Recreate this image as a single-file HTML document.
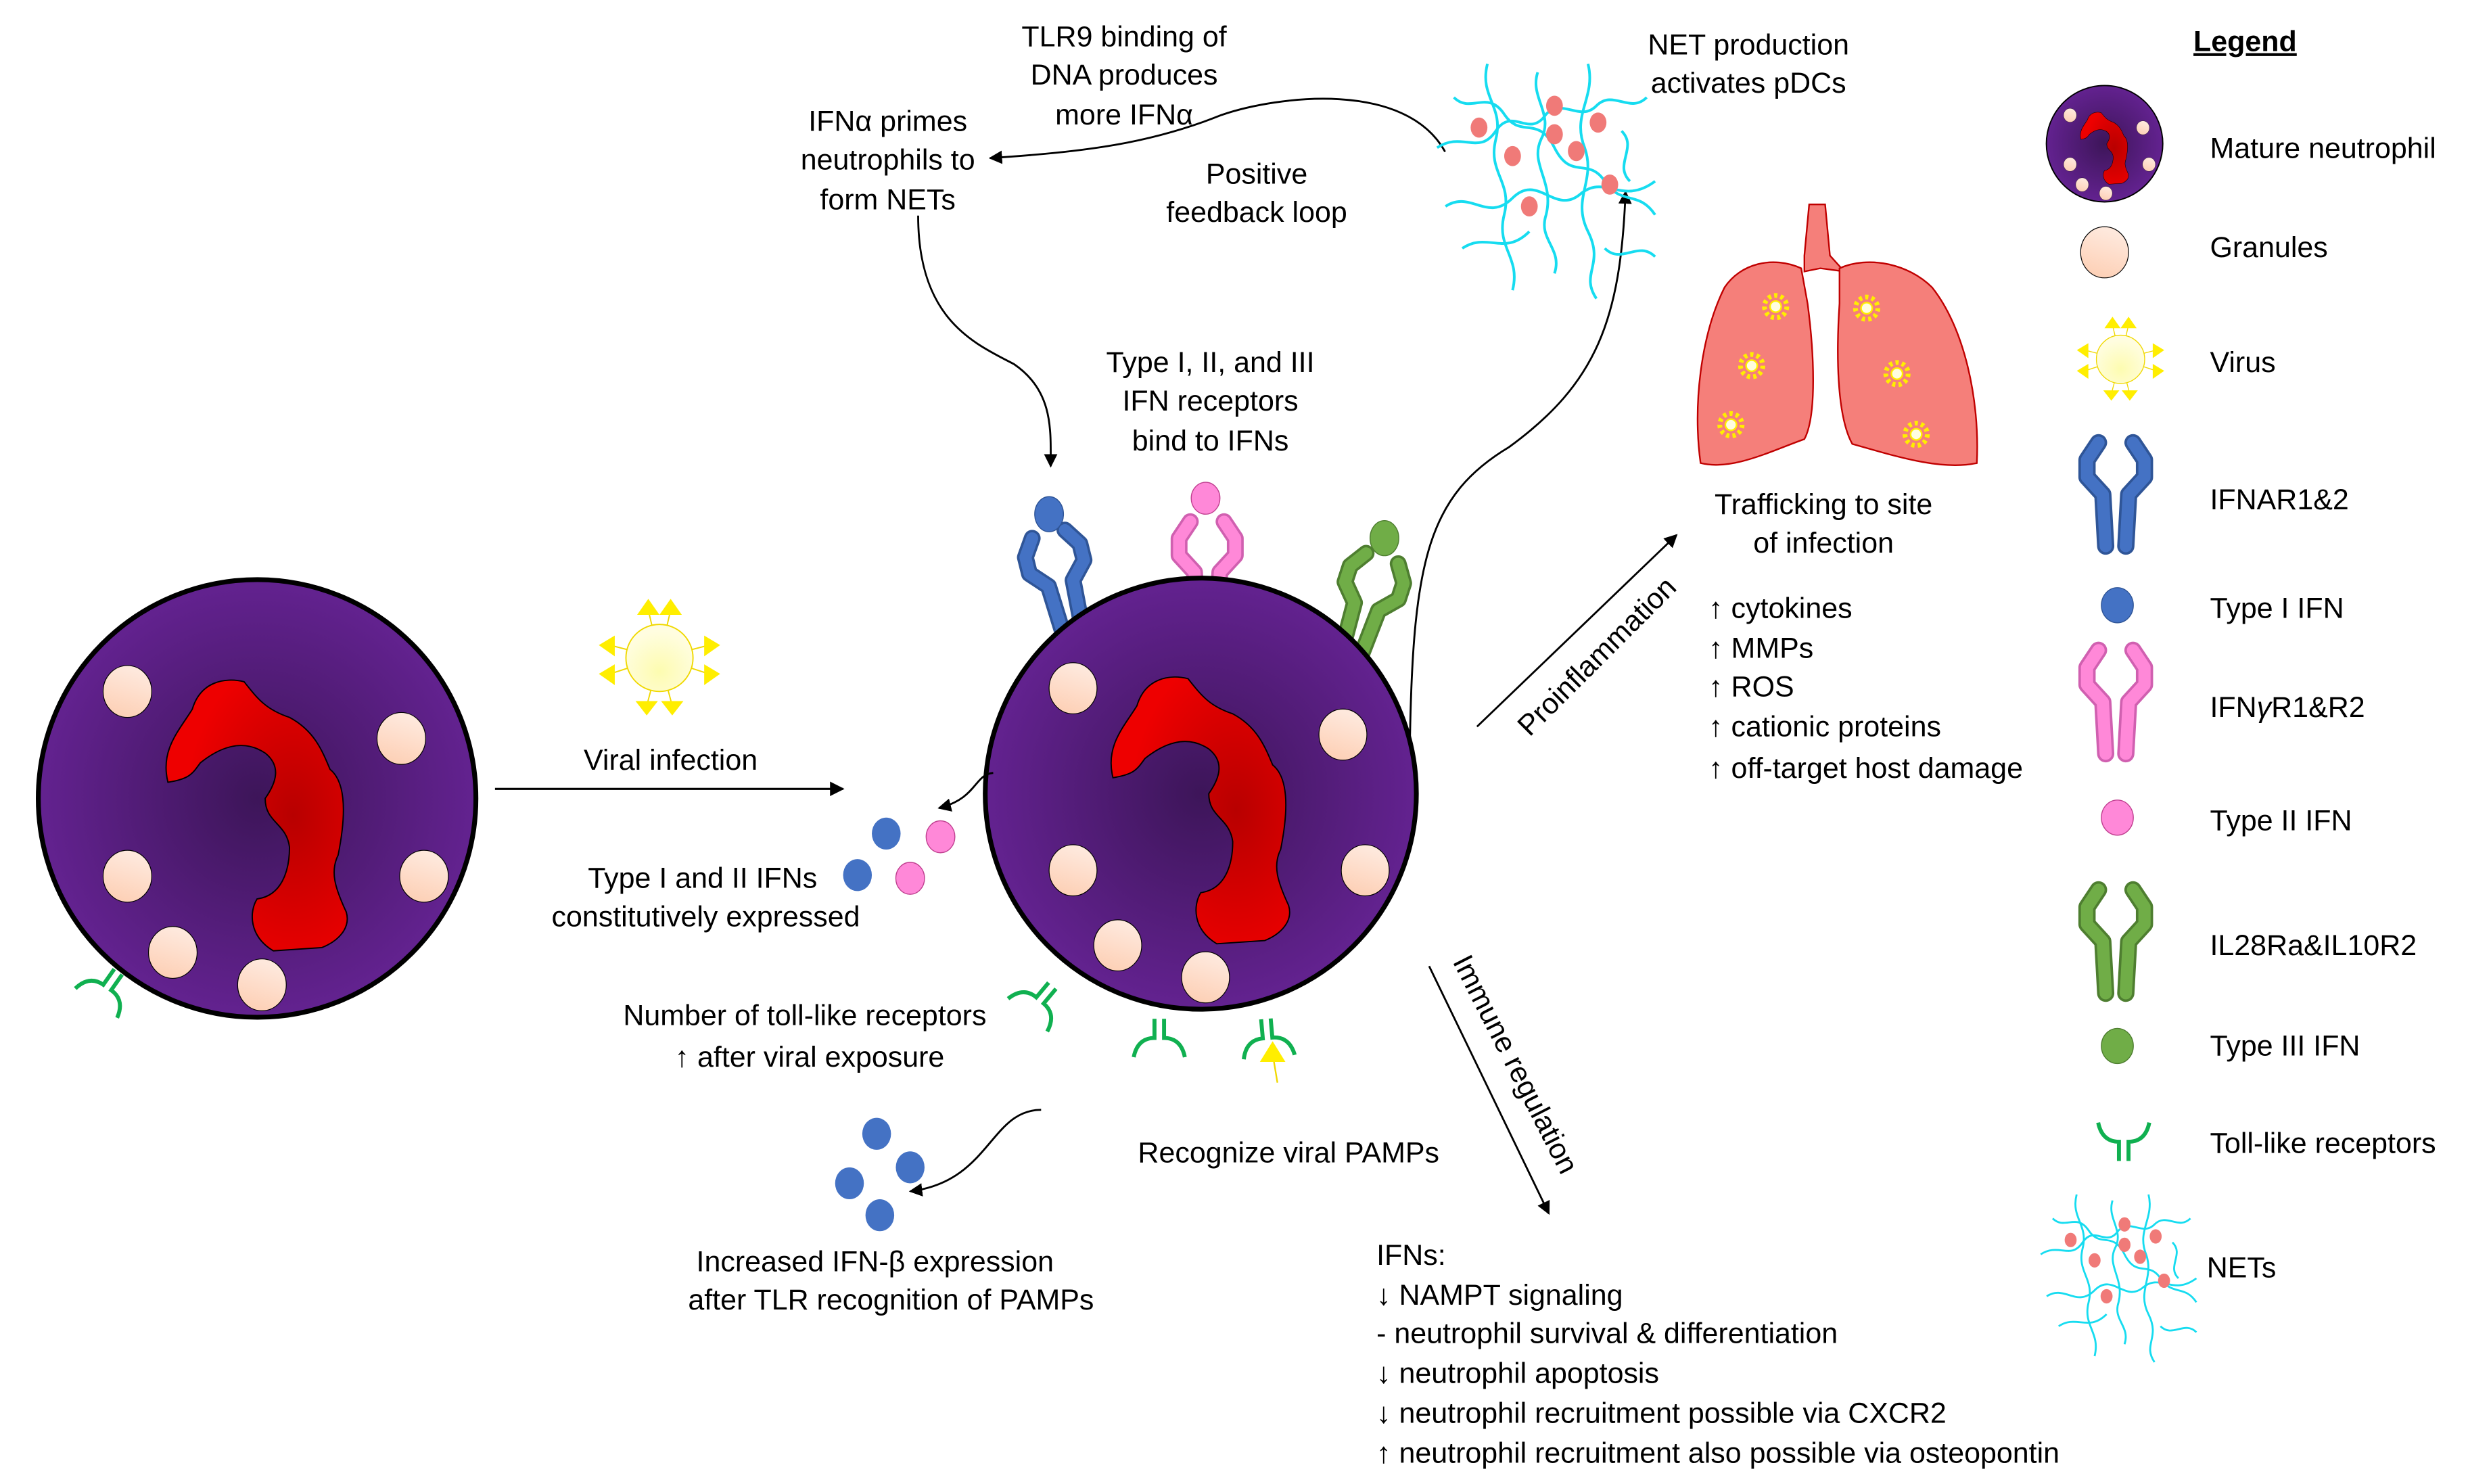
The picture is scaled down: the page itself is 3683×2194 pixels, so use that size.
<!DOCTYPE html>
<html><head><meta charset="utf-8"><style>
html,body{margin:0;padding:0;background:#fff;}
svg{display:block;}
text{font-family:"Liberation Sans",Arial,sans-serif;font-size:18.2px;fill:#000;}
</style></head><body>
<svg xmlns="http://www.w3.org/2000/svg" width="3683" height="2194" viewBox="0 0 1560 929.3" preserveAspectRatio="none">
<defs>
<radialGradient id="cg" cx="0.5" cy="0.5" r="0.5"><stop offset="0" stop-color="#3d1559"/><stop offset="1" stop-color="#632290"/></radialGradient>
<linearGradient id="gg" x1="0.3" y1="0" x2="0" y2="1"><stop offset="0" stop-color="#fee8dc"/><stop offset="1" stop-color="#fdcdb1"/></linearGradient>
<radialGradient id="ng" cx="0.7" cy="0.5" r="0.6"><stop offset="0" stop-color="#b80000"/><stop offset="1" stop-color="#ee0000"/></radialGradient>
<radialGradient id="vg" cx="0.5" cy="0.7" r="0.6"><stop offset="0" stop-color="#fdfcb0"/><stop offset="1" stop-color="#fffde0"/></radialGradient>
<marker id="ah" viewBox="0 0 10 10" refX="9" refY="5" markerWidth="7" markerHeight="7" orient="auto"><path d="M0,0 L10,5 L0,10 z" fill="#000"/></marker>
<g id="gran"><ellipse rx="15" ry="16" fill="url(#gg)" stroke="#000" stroke-width="0.5"/></g>
<g id="cell">
<circle r="135" fill="url(#cg)" stroke="#000" stroke-width="3"/>
<path d="M-55,-10 C-60,-30 -48,-42 -40,-55 C-35,-72 -20,-75 -8,-72 C0,-62 5,-55 20,-50 C35,-42 40,-30 45,-18 C55,-10 55,10 50,35 C45,45 48,55 55,70 C58,80 50,88 40,92 L10,94 C-5,85 -5,70 0,62 C15,60 20,45 20,30 C18,15 5,15 5,0 C12,-10 15,-20 5,-28 C-10,-38 -25,-30 -35,-22 C-40,-15 -42,-12 -55,-10 Z" fill="url(#ng)" stroke="#000" stroke-width="0.8"/>
<use href="#gran" x="-80" y="-66"/>
<use href="#gran" x="89" y="-37"/>
<use href="#gran" x="-80" y="48"/>
<use href="#gran" x="103" y="48"/>
<use href="#gran" x="-52" y="95"/>
<use href="#gran" x="3" y="115"/>
</g>
<g id="rec">
<path d="M-7,0 L-9,-36 L-20,-48 L-20,-60 L-12,-72 M7,0 L9,-36 L20,-48 L20,-60 L12,-72" fill="none" stroke="var(--d)" stroke-width="12" stroke-linecap="round" stroke-linejoin="round"/>
<path d="M-7,0 L-9,-36 L-20,-48 L-20,-60 L-12,-72 M7,0 L9,-36 L20,-48 L20,-60 L12,-72" fill="none" stroke="var(--c)" stroke-width="8.5" stroke-linecap="round" stroke-linejoin="round"/>
</g>
<g id="tlr" fill="none" stroke="#10b050" stroke-width="2.5"><path d="M-16,-10 C-14,0 -8,2 -3,2 L-3,14 M16,-10 C14,0 8,2 3,2 L3,14"/></g>
<g id="virus" stroke="#f0d800" stroke-width="0.8">
<line x1="0" y1="0" x2="-7" y2="-30"/><line x1="0" y1="0" x2="7" y2="-30"/><line x1="0" y1="0" x2="-31" y2="-8"/><line x1="0" y1="0" x2="-31" y2="10"/><line x1="0" y1="0" x2="31" y2="-8"/><line x1="0" y1="0" x2="31" y2="10"/><line x1="0" y1="0" x2="-8" y2="30"/><line x1="0" y1="0" x2="8" y2="30"/>
<circle r="21" fill="url(#vg)"/>
<g fill="#ffee00" stroke="none">
<path d="M-14,-27 L-7,-37 L0,-27Z"/><path d="M0,-27 L7,-37 L14,-27Z"/>
<path d="M-28,-14 L-38,-8 L-28,-1Z"/><path d="M-28,4 L-38,10 L-28,17Z"/>
<path d="M28,-14 L38,-8 L28,-1Z"/><path d="M28,4 L38,10 L28,17Z"/>
<path d="M-15,27 L-8,36 L-1,27Z"/><path d="M1,27 L8,36 L15,27Z"/>
</g></g>
<g id="net">
<g fill="none" stroke="#16dcf0" stroke-width="1.6">
<path d="M0,50 C15,40 25,55 35,40 C45,25 55,45 65,30 C75,20 85,35 95,25 C105,15 115,30 125,20"/>
<path d="M10,20 C20,30 30,15 40,30 C50,45 60,30 70,50 C80,70 90,55 100,70 C110,85 120,75 130,90"/>
<path d="M30,0 C25,20 40,25 35,45 C30,65 45,70 40,90 C35,110 50,115 45,135"/>
<path d="M90,0 C95,20 80,30 88,50 C95,70 80,80 90,100 C100,120 85,125 95,140"/>
<path d="M5,85 C20,75 30,95 45,80 C60,65 70,90 85,78 C100,65 110,85 130,70"/>
<path d="M60,5 C55,20 70,30 62,45 C55,60 70,70 65,90 C60,105 75,110 70,125"/>
<path d="M15,110 C30,100 40,115 55,100 M100,110 C110,120 120,105 130,115 M110,40 C120,50 105,60 115,70"/>
</g>
<g fill="#f07a78"><ellipse cx="25" cy="38" rx="5" ry="6"/><ellipse cx="45" cy="55" rx="5" ry="6"/><ellipse cx="70" cy="42" rx="5" ry="6"/><ellipse cx="83" cy="52" rx="5" ry="6"/><ellipse cx="96" cy="35" rx="5" ry="6"/><ellipse cx="55" cy="85" rx="5" ry="6"/><ellipse cx="103" cy="72" rx="5" ry="6"/><ellipse cx="70" cy="25" rx="5" ry="6"/></g>
</g>
</defs>

<!-- left cell -->
<use href="#cell" transform="translate(161,500) scale(1.015)"/>
<use href="#tlr" transform="translate(66,620) rotate(215)"/>

<!-- center cell -->
<g style="--c:#4472c4;--d:#2f5597"><use href="#rec" transform="translate(672,396) rotate(-14) scale(0.88)"/></g>
<ellipse cx="657" cy="322" rx="9" ry="11" fill="#4472c4" stroke="#2f5597" stroke-width="0.6"/>
<g style="--c:#ff88d8;--d:#d060b0"><use href="#rec" transform="translate(756,390) scale(0.88)"/></g>
<ellipse cx="755" cy="312" rx="9" ry="10" fill="#ff88d8" stroke="#c04090" stroke-width="0.6"/>
<g style="--c:#70ad47;--d:#4e7e30"><use href="#rec" transform="translate(846,410) rotate(18) scale(0.88)"/></g>
<ellipse cx="867" cy="337" rx="9" ry="11" fill="#70ad47" stroke="#4e7e30" stroke-width="0.6"/>
<use href="#cell" transform="translate(752,497)"/>
<use href="#tlr" transform="translate(650,628) rotate(220)"/>
<use href="#tlr" transform="translate(726,652) rotate(180)"/>
<use href="#tlr" transform="translate(794,652) rotate(175)"/>
<line x1="797" y1="660" x2="800" y2="678" stroke="#f0d800" stroke-width="1"/>
<path d="M789,665 L797,652 L805,665Z" fill="#ffee00"/>

<!-- virus & arrow -->
<use href="#virus" transform="translate(413,412)"/>
<text x="420" y="482" text-anchor="middle">Viral infection</text>
<line x1="310" y1="494" x2="528" y2="494" stroke="#000" stroke-width="1.3" marker-end="url(#ah)"/>

<path d="M622,484 C610,485 612,500 588,506" fill="none" stroke="#000" stroke-width="1.2" marker-end="url(#ah)"/>
<ellipse cx="555" cy="522" rx="9" ry="10" fill="#4472c4"/>
<ellipse cx="537" cy="548" rx="9" ry="10" fill="#4472c4"/>
<ellipse cx="589" cy="524" rx="9" ry="10" fill="#ff88d8" stroke="#c04090" stroke-width="0.6"/>
<ellipse cx="570" cy="550" rx="9" ry="10" fill="#ff88d8" stroke="#c04090" stroke-width="0.6"/>
<text x="440" y="556" text-anchor="middle">Type I and II IFNs</text>
<text x="442" y="580" text-anchor="middle">constitutively expressed</text>
<text x="504" y="642" text-anchor="middle">Number of toll-like receptors</text>
<text x="507" y="668" text-anchor="middle">↑ after viral exposure</text>
<text x="807" y="728" text-anchor="middle">Recognize viral PAMPs</text>
<path d="M652,695 C620,695 620,740 570,746" fill="none" stroke="#000" stroke-width="1.2" marker-end="url(#ah)"/>
<ellipse cx="549" cy="710" rx="9" ry="10" fill="#4472c4"/>
<ellipse cx="570" cy="731" rx="9" ry="10" fill="#4472c4"/>
<ellipse cx="532" cy="741" rx="9" ry="10" fill="#4472c4"/>
<ellipse cx="551" cy="761" rx="9" ry="10" fill="#4472c4"/>
<text x="548" y="796" text-anchor="middle">Increased IFN-β expression</text>
<text x="558" y="820" text-anchor="middle">after TLR recognition of PAMPs</text>

<!-- top -->
<text x="704" y="29" text-anchor="middle">TLR9 binding of</text>
<text x="704" y="53" text-anchor="middle">DNA produces</text>
<text x="704" y="78" text-anchor="middle">more IFNα</text>
<text x="556" y="82" text-anchor="middle">IFNα primes</text>
<text x="556" y="106" text-anchor="middle">neutrophils to</text>
<text x="556" y="131" text-anchor="middle">form NETs</text>
<text x="787" y="115" text-anchor="middle">Positive</text>
<text x="787" y="139" text-anchor="middle">feedback loop</text>
<text x="1095" y="34" text-anchor="middle">NET production</text>
<text x="1095" y="58" text-anchor="middle">activates pDCs</text>
<path d="M905,95 C880,50 800,60 765,72 C720,90 680,95 620,99" fill="none" stroke="#000" stroke-width="1.2" marker-end="url(#ah)"/>
<path d="M575,135 C575,200 610,215 635,228 C660,245 658,270 658,292" fill="none" stroke="#000" stroke-width="1.2" marker-end="url(#ah)"/>
<text x="758" y="233" text-anchor="middle">Type I, II, and III</text>
<text x="758" y="257" text-anchor="middle">IFN receptors</text>
<text x="758" y="282" text-anchor="middle">bind to IFNs</text>
<path d="M883,462 C885,350 895,310 945,280 C1000,240 1015,200 1018,120" fill="none" stroke="#000" stroke-width="1.2" marker-end="url(#ah)"/>
<use href="#net" transform="translate(900,40) scale(1.05)"/>

<!-- lungs -->
<g stroke="#c00000" stroke-width="1" fill="#f57f7a">
<path d="M1133,128 L1143,128 L1146,160 L1155,170 L1140,168 L1130,170 L1130,160Z"/>
<path d="M1128,168 C1110,160 1090,165 1080,180 C1065,210 1060,255 1065,290 C1085,295 1110,282 1130,275 C1138,260 1136,220 1132,190 Z"/>
<path d="M1152,168 C1170,160 1195,165 1210,180 C1230,205 1240,250 1238,290 C1215,295 1185,285 1160,278 C1150,260 1150,220 1152,190 Z"/>
</g>
<g fill="#ffee00" stroke="#ffee00">
<circle cx="1112" cy="192" r="7" fill="none" stroke-dasharray="2 2" stroke-width="3"/><circle cx="1112" cy="192" r="3.5" fill="#fffde0"/>
<circle cx="1169" cy="193" r="7" fill="none" stroke-dasharray="2 2" stroke-width="3"/><circle cx="1169" cy="193" r="3.5" fill="#fffde0"/>
<circle cx="1097" cy="229" r="7" fill="none" stroke-dasharray="2 2" stroke-width="3"/><circle cx="1097" cy="229" r="3.5" fill="#fffde0"/>
<circle cx="1188" cy="234" r="7" fill="none" stroke-dasharray="2 2" stroke-width="3"/><circle cx="1188" cy="234" r="3.5" fill="#fffde0"/>
<circle cx="1084" cy="266" r="7" fill="none" stroke-dasharray="2 2" stroke-width="3"/><circle cx="1084" cy="266" r="3.5" fill="#fffde0"/>
<circle cx="1200" cy="272" r="7" fill="none" stroke-dasharray="2 2" stroke-width="3"/><circle cx="1200" cy="272" r="3.5" fill="#fffde0"/>
</g>
<text x="1142" y="322" text-anchor="middle">Trafficking to site</text>
<text x="1142" y="346" text-anchor="middle">of infection</text>
<line x1="925" y1="455" x2="1050" y2="335" stroke="#000" stroke-width="1.2" marker-end="url(#ah)"/>
<text x="1003" y="420" text-anchor="middle" transform="rotate(-45 998 416)">Proinflammation</text>
<text x="1070" y="387">↑ cytokines</text>
<text x="1070" y="412">↑ MMPs</text>
<text x="1070" y="436">↑ ROS</text>
<text x="1070" y="461">↑ cationic proteins</text>
<text x="1070" y="487">↑ off-target host damage</text>
<line x1="895" y1="605" x2="970" y2="760" stroke="#000" stroke-width="1.2" marker-end="url(#ah)"/>
<text x="950" y="667" text-anchor="middle" transform="rotate(63 945 663)">Immune regulation</text>
<text x="862" y="792">IFNs:</text>
<text x="862" y="817">↓ NAMPT signaling</text>
<text x="862" y="841">- neutrophil survival &amp; differentiation</text>
<text x="862" y="866">↓ neutrophil apoptosis</text>
<text x="862" y="891">↓ neutrophil recruitment possible via CXCR2</text>
<text x="862" y="916">↑ neutrophil recruitment also possible via osteopontin</text>

<!-- legend -->
<text x="1406" y="32" text-anchor="middle" font-weight="bold" text-decoration="underline">Legend</text>
<use href="#cell" transform="translate(1318,90) scale(0.27)"/>
<text x="1384" y="99">Mature neutrophil</text>
<use href="#gran" transform="translate(1318,158)"/>
<text x="1384" y="161">Granules</text>
<use href="#virus" transform="translate(1328,225) scale(0.72)"/>
<text x="1384" y="233">Virus</text>
<g style="--c:#4472c4;--d:#2f5597"><use href="#rec" transform="translate(1325,342) scale(0.9)"/></g>
<text x="1384" y="319">IFNAR1&amp;2</text>
<ellipse cx="1326" cy="379" rx="10" ry="11" fill="#4472c4" stroke="#2f5597" stroke-width="0.6"/>
<text x="1384" y="387">Type I IFN</text>
<g style="--c:#ff88d8;--d:#d060b0"><use href="#rec" transform="translate(1325,472) scale(0.9)"/></g>
<text x="1384" y="449">IFN<tspan font-style="italic">γ</tspan>R1&amp;R2</text>
<ellipse cx="1326" cy="512" rx="10" ry="11" fill="#ff88d8" stroke="#c04090" stroke-width="0.6"/>
<text x="1384" y="520">Type II IFN</text>
<g style="--c:#70ad47;--d:#4e7e30"><use href="#rec" transform="translate(1325,622) scale(0.9)"/></g>
<text x="1384" y="598">IL28Ra&amp;IL10R2</text>
<ellipse cx="1326" cy="655" rx="10" ry="11" fill="#70ad47" stroke="#4e7e30" stroke-width="0.6"/>
<text x="1384" y="661">Type III IFN</text>
<use href="#tlr" transform="translate(1330,713)"/>
<text x="1384" y="722">Toll-like receptors</text>
<use href="#net" transform="translate(1278,748) scale(0.75)"/>
<text x="1382" y="800">NETs</text>
</svg>
</body></html>
